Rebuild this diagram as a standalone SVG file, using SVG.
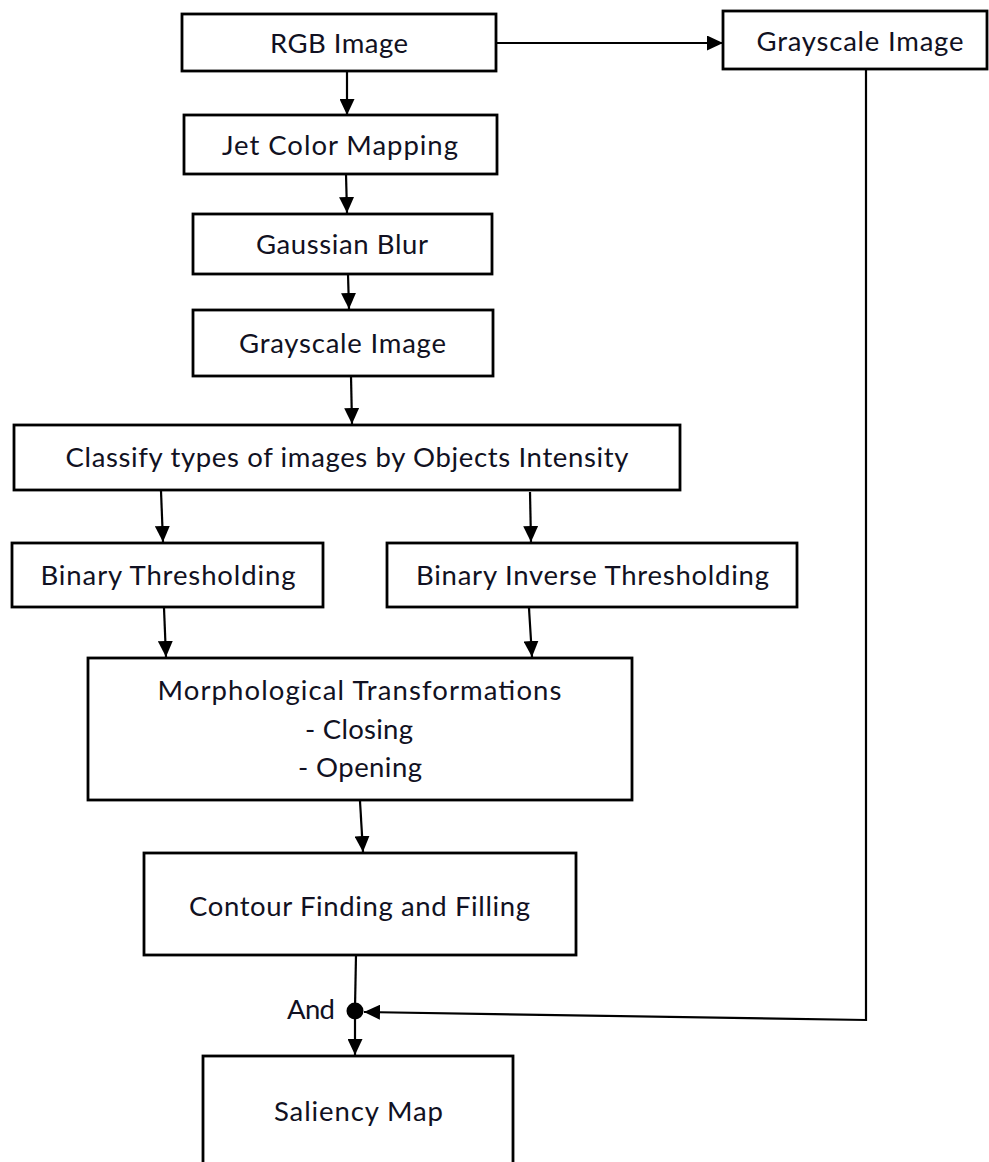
<svg xmlns="http://www.w3.org/2000/svg" width="989" height="1162" viewBox="0 0 989 1162">
  <style>
    .box { fill: #ffffff; stroke: #000000; stroke-width: 2.8; }
    .lbl { font-family: Lato, "Liberation Sans", sans-serif; font-size: 27.5px; fill: #111122; text-anchor: middle; }
    .wire { fill: none; stroke: #000000; stroke-width: 2.2; }
  </style>
  <defs>
    <marker id="arrow" markerUnits="userSpaceOnUse" markerWidth="17" markerHeight="15" refX="16" refY="7.5" orient="auto">
      <path d="M0,0 L16,7.5 L0,15 z" fill="#000000"/>
    </marker>
  </defs>

  <rect x="0" y="0" width="989" height="1162" fill="#ffffff"/>

  <!-- connectors -->
  <g id="connectors">
    <line class="wire" x1="347" y1="71" x2="347" y2="115" marker-end="url(#arrow)"/>
    <line class="wire" x1="497" y1="43" x2="723" y2="43" marker-end="url(#arrow)"/>
    <line class="wire" x1="346" y1="174" x2="347" y2="213" marker-end="url(#arrow)"/>
    <line class="wire" x1="348" y1="274" x2="349" y2="309" marker-end="url(#arrow)"/>
    <line class="wire" x1="351" y1="376" x2="352" y2="424" marker-end="url(#arrow)"/>
    <line class="wire" x1="161" y1="491" x2="163" y2="542" marker-end="url(#arrow)"/>
    <line class="wire" x1="530" y1="492" x2="531" y2="542" marker-end="url(#arrow)"/>
    <line class="wire" x1="164" y1="608" x2="166" y2="657" marker-end="url(#arrow)"/>
    <line class="wire" x1="529" y1="608" x2="532" y2="657" marker-end="url(#arrow)"/>
    <line class="wire" x1="360" y1="801" x2="363" y2="852" marker-end="url(#arrow)"/>
    <line class="wire" x1="356" y1="955" x2="355" y2="1008"/>
    <line class="wire" x1="355" y1="1011" x2="355" y2="1055" marker-end="url(#arrow)"/>
    <polyline class="wire" points="866,69 866,1020 364,1012" marker-end="url(#arrow)"/>
    <circle cx="355" cy="1011" r="8.5" fill="#000000"/>
  </g>

  <g id="rgb-image">
    <rect class="box" x="182" y="14" width="314" height="57"/>
    <text class="lbl" x="339" y="53" textLength="138">RGB Image</text>
  </g>

  <g id="grayscale-side">
    <rect class="box" x="723" y="11" width="264" height="58"/>
    <text class="lbl" x="860" y="51" textLength="207">Grayscale Image</text>
  </g>

  <g id="jet-color">
    <rect class="box" x="184" y="115" width="313" height="59"/>
    <text class="lbl" x="340" y="155" textLength="236">Jet Color Mapping</text>
  </g>

  <g id="gaussian-blur">
    <rect class="box" x="193" y="214" width="299" height="60"/>
    <text class="lbl" x="342" y="254" textLength="172">Gaussian Blur</text>
  </g>

  <g id="grayscale-main">
    <rect class="box" x="193" y="310" width="300" height="66"/>
    <text class="lbl" x="342.5" y="353" textLength="207">Grayscale Image</text>
  </g>

  <g id="classify">
    <rect class="box" x="14" y="425" width="666" height="65"/>
    <text class="lbl" x="347" y="467" textLength="563">Classify types of images by Objects Intensity</text>
  </g>

  <g id="binary-threshold">
    <rect class="box" x="12" y="543" width="311" height="64"/>
    <text class="lbl" x="168" y="585" textLength="255">Binary Thresholding</text>
  </g>

  <g id="binary-inverse">
    <rect class="box" x="387" y="543" width="410" height="64"/>
    <text class="lbl" x="592.5" y="585" textLength="353">Binary Inverse Thresholding</text>
  </g>

  <g id="morphology">
    <rect class="box" x="88" y="658" width="544" height="142"/>
    <text class="lbl" x="359.5" y="700" textLength="404">Morphological Transformations</text>
    <text class="lbl" x="359" y="739" textLength="108">- Closing</text>
    <text class="lbl" x="360" y="777" textLength="124">- Opening</text>
  </g>

  <g id="contour">
    <rect class="box" x="144" y="853" width="432" height="102"/>
    <text class="lbl" x="359.5" y="916" textLength="341">Contour Finding and Filling</text>
  </g>

  <g id="and-label">
    <text class="lbl" x="311" y="1019" textLength="48">And</text>
  </g>

  <g id="saliency-map">
    <rect class="box" x="203" y="1056" width="310" height="140"/>
    <text class="lbl" x="358.5" y="1121" textLength="169">Saliency Map</text>
  </g>
</svg>
